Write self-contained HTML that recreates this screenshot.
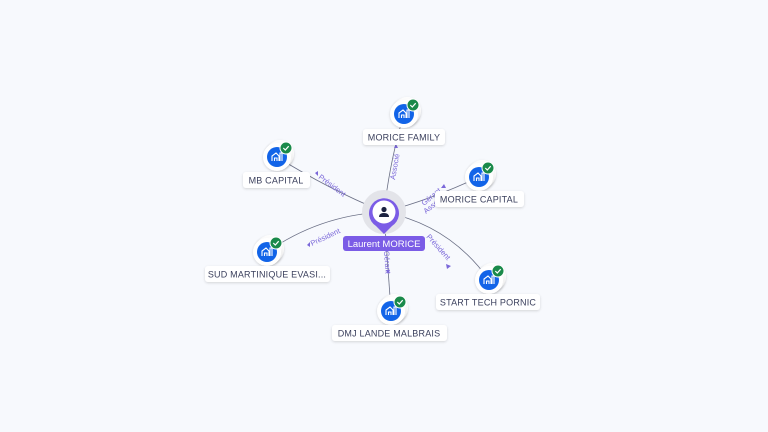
<!DOCTYPE html>
<html><head><style>
html,body{margin:0;padding:0;background:#f7f9fd;}
svg{display:block;font-family:"Liberation Sans",sans-serif;}
.lbl{font-size:9px;fill:#3a3f5c;letter-spacing:0.2px}
.el{font-size:7.5px;fill:#7b68d9}
</style></head><body>
<svg width="768" height="432" viewBox="0 0 768 432">
<defs>
<filter id="sh" x="-50%" y="-50%" width="200%" height="200%"><feDropShadow dx="0" dy="1" stdDeviation="1.2" flood-color="#000" flood-opacity="0.15"/></filter>
<g id="co">
<circle cx="3" cy="-3" r="14" fill="#fff" filter="url(#sh)"/>
<circle cx="1.5" cy="-1.5" r="14" fill="#fff" filter="url(#sh)"/>
<circle cx="0" cy="0" r="14" fill="#fff" filter="url(#sh)"/>
<circle cx="0" cy="0" r="10" fill="#1264e8"/>
<path d="M-5 4 V-1 L-1 -4 L2 -1 V4 M-2.5 4 V1 H0 V4 M3 4 V-4 H5 V4" stroke="#fff" stroke-width="1.1" fill="none"/>
<circle cx="9" cy="-9" r="6" fill="#1a8a4a" stroke="#fff" stroke-width="1"/>
<path d="M6.3 -9 L8.3 -7 L11.7 -10.8" stroke="#fff" stroke-width="1.2" fill="none"/>
</g>
</defs>
<g stroke="#6a6f85" stroke-width="0.8" fill="none">
<path d="M384 212 Q390 160 404 114"/>
<path d="M384 212 Q430 200 479 177"/>
<path d="M384 212 Q450 225 489 280"/>
<path d="M384 212 L391 311"/>
<path d="M384 212 Q320 215 267 252"/>
<path d="M384 212 Q330 190 277 157"/>
</g>
<circle cx="384" cy="212" r="22" fill="#e3e4e9"/>
<g fill="#7b68d9">
<polygon points="394,148 398,148 396,144"/>
<polygon points="444,184 446,188 441,188"/>
<polygon points="446,264 451,266 447,269"/>
<polygon points="386,270 390,270 388,274"/>
<polygon points="307,245 310,242 310,247"/>
<polygon points="315,173 318,171 318,176"/>
</g>
<text class="el" transform="translate(395,180) rotate(-80)">Associé</text>
<text class="el" transform="translate(424,206) rotate(-40)">Gérant</text>
<text class="el" transform="translate(426,214) rotate(-40)">Asso</text>
<text class="el" transform="translate(426,237) rotate(48)">Président</text>
<text class="el" transform="translate(384,251) rotate(86)">Gérant</text>
<text class="el" transform="translate(312,246) rotate(-25)">Président</text>
<text class="el" transform="translate(318,178) rotate(37)">Président</text>
<path d="M384 234 L376 226 A15 15 0 1 1 392 226 Z" fill="#7b5ce6"/>
<circle cx="384" cy="212" r="11.5" fill="#fff"/>
<circle cx="384" cy="209.5" r="2.6" fill="#1c2340"/>
<path d="M379 217 Q379 213 384 213 Q389 213 389 217 Z" fill="#1c2340"/>
<rect x="343" y="236" width="82" height="15" rx="3" fill="#7b5ce6"/>
<text x="384" y="247" text-anchor="middle" font-size="9.5" fill="#fff">Laurent MORICE</text>
<g>
<use href="#co" x="404" y="114"/>
<rect x="363" y="129" width="82" height="16" rx="3" fill="#fff" filter="url(#sh)"/>
<text class="lbl" x="404" y="140.5" text-anchor="middle">MORICE FAMILY</text>
<use href="#co" x="479" y="177"/>
<rect x="435" y="191" width="89" height="16" rx="3" fill="#fff" filter="url(#sh)"/>
<text class="lbl" x="479" y="202.5" text-anchor="middle">MORICE CAPITAL</text>
<use href="#co" x="489" y="280"/>
<rect x="436" y="294" width="104" height="16" rx="3" fill="#fff" filter="url(#sh)"/>
<text class="lbl" x="488" y="305.5" text-anchor="middle">START TECH PORNIC</text>
<use href="#co" x="391" y="311"/>
<rect x="332" y="325" width="115" height="16" rx="3" fill="#fff" filter="url(#sh)"/>
<text class="lbl" x="389" y="336.5" text-anchor="middle">DMJ LANDE MALBRAIS</text>
<use href="#co" x="267" y="252"/>
<rect x="205" y="266" width="125" height="16" rx="3" fill="#fff" filter="url(#sh)"/>
<text class="lbl" x="267" y="277.5" text-anchor="middle">SUD MARTINIQUE EVASI...</text>
<use href="#co" x="277" y="157"/>
<rect x="243" y="172" width="67" height="16" rx="3" fill="#fff" filter="url(#sh)"/>
<text class="lbl" x="276" y="183.5" text-anchor="middle">MB CAPITAL</text>
</g>
</svg>
</body></html>
